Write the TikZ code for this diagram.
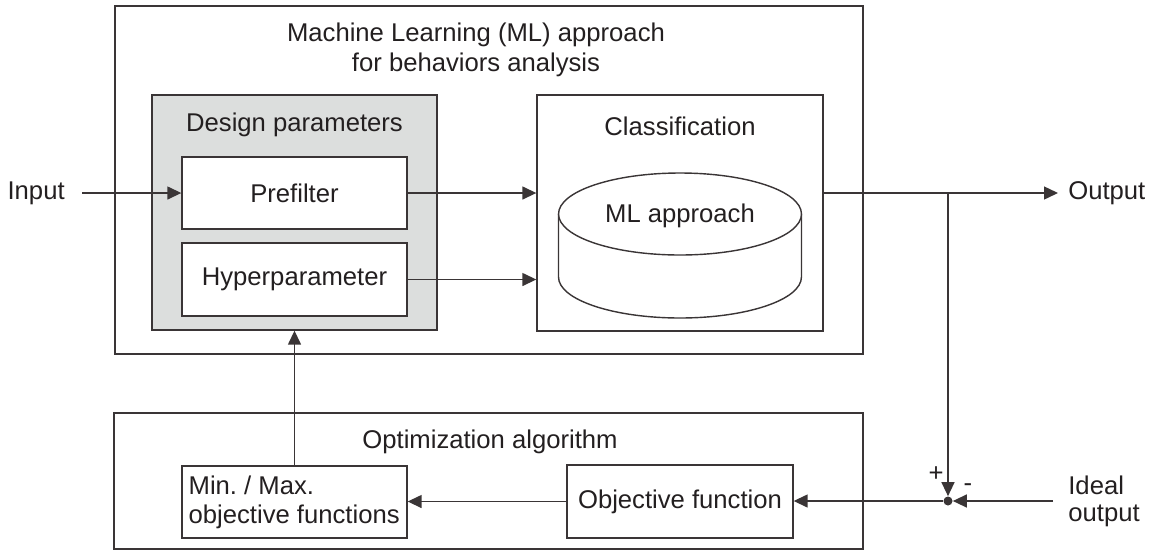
\documentclass[tikz,border=0pt]{standalone}
\usepackage{fontspec}
\setmainfont{Liberation Sans}
\usepackage{xcolor}
\usetikzlibrary{positioning,calc,arrows.meta,shapes.geometric}
\frenchspacing

\definecolor{lineC}{HTML}{3A3536}
\definecolor{textC}{HTML}{231F20}
\definecolor{paramC}{HTML}{DCDEDD}

\tikzset{
	blk/.style={draw=lineC,line width=0.8pt,rectangle,inner sep=0pt},
	lbl/.style={text=textC,font=\fontsize{14.6}{16}\selectfont,inner sep=0pt},
	arr/.style={draw=lineC,line width=0.8pt,-{Triangle[length=0.28cm,width=0.26cm]}},
	wire/.style={draw=lineC,line width=0.8pt}
}

\begin{document}
\begin{tikzpicture}[x=0.02cm,y=-0.02cm]
	\useasboundingbox (0,0) rectangle (1153,552);
	\def\rx{2.43cm}
	\def\ry{0.82cm}

	% top: ML approach box
	\node[blk,minimum width=14.96cm,minimum height=6.96cm] (ml) at (489,180) {};
	\node[lbl,align=center,font=\fontsize{14.6}{17}\selectfont] (mltitle) at (476,50)
		{Machine Learning (ML) approach\\for behaviors analysis};

	% design parameters
	\node[blk,fill=paramC,minimum width=5.7cm,minimum height=4.7cm] (design) at (294.5,212.5) {};
	\node[lbl] (designtitle) at (294.5,125) {Design parameters};
	\node[blk,fill=white,minimum width=4.5cm,minimum height=1.44cm] (prefilter) at (294.5,193) {};
	\node[lbl] at (prefilter) {Prefilter};
	\node[blk,fill=white,minimum width=4.5cm,minimum height=1.46cm] (hyper) at (294.5,279.5) {};
	\node[lbl] at (hyper) {Hyperparameter};

	% classification + cylinder
	\node[blk,minimum width=5.72cm,minimum height=4.72cm] (class) at (680,213) {};
	\node[lbl] (classtitle) at (680,126) {Classification};
	\draw[wire,fill=white] (558.5,214) -- (558.5,277)
		arc[start angle=180,end angle=360,x radius=\rx,y radius=\ry] -- (801.5,214);
	\draw[wire,fill=white] (680,214) ellipse[x radius=\rx,y radius=\ry];
	\node[lbl] (mlapp) at (680,216) {ML approach};

	% bottom: optimization box
	\node[blk,minimum width=14.98cm,minimum height=2.72cm] (opt) at (488.5,481) {};
	\node[lbl] (opttitle) at (490,442) {Optimization algorithm};
	\node[blk,minimum width=4.5cm,minimum height=1.44cm] (minmax) at (294.5,502) {};
	\node[lbl,align=left,anchor=west,xshift=0.14cm,font=\fontsize{14.6}{16.5}\selectfont] (minmaxtxt) at (minmax.west)
		{Min. / Max.\\objective functions};
	\node[blk,minimum width=4.52cm,minimum height=1.46cm] (objfun) at (680,501.5) {};
	\node[lbl] at (objfun) {Objective function};

	% in / out
	\node[lbl,anchor=east,inner xsep=0.34cm] (input) at (82,193) {Input};
	\node[lbl,anchor=west,inner xsep=0.2cm] (output) at (1058,193) {Output};
	\node[lbl,anchor=west,inner xsep=0.3cm,align=left,font=\fontsize{14.6}{15.5}\selectfont] (ideal) at (1053,501)
		{Ideal\\output};

	% summing point
	\node[circle,fill=lineC,minimum size=0.18cm,inner sep=0pt] (sum) at (948,501) {};
	\coordinate (branch) at (948,193);
	\node[lbl] (plus) at (936,474) {+};
	\node[lbl] (minus) at (968,488) {-};

	% connectors
	\draw[arr] (input.east) -- (prefilter.west);
	\draw[arr] (prefilter.east) -- (class.west |- prefilter);
	\draw[arr] (hyper.east) -- (class.west |- hyper);
	\draw[arr] (class.east |- prefilter) -- (output.west);
	\draw[arr] (branch) -- (sum.north);
	\draw[arr] (ideal.west) -- (sum.east);
	\draw[arr] (sum.west) -- (sum.west -| objfun.east);
	\draw[arr] (objfun.west) -- (objfun.west -| minmax.east);
	\draw[arr] (minmax.north) -- (design.south);
\end{tikzpicture}
\end{document}
